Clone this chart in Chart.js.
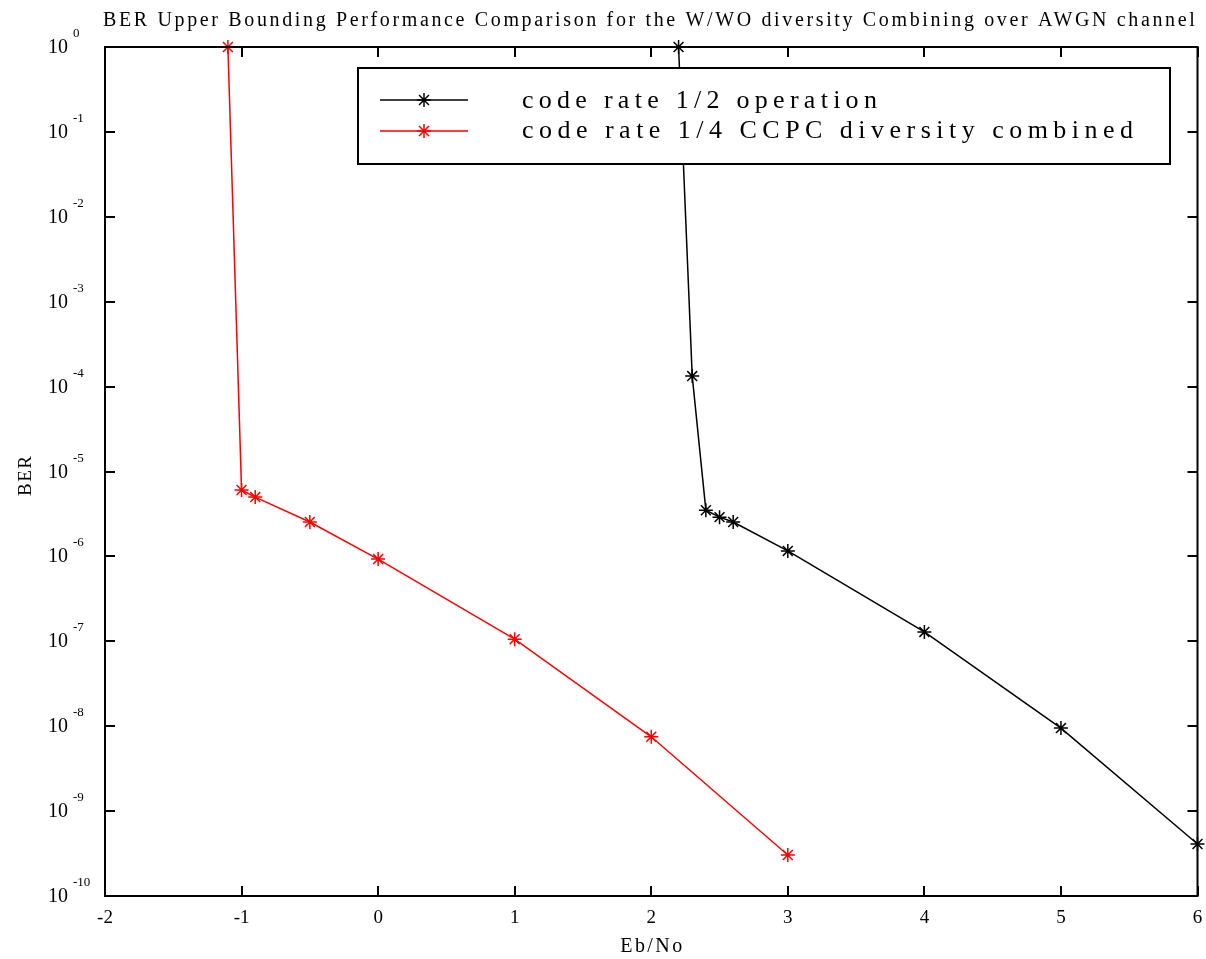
<!DOCTYPE html>
<html><head><meta charset="utf-8">
<script src="https://cdn.jsdelivr.net/npm/chart.js@4/dist/chart.umd.min.js"></script>
<style>html,body{margin:0;padding:0;background:#fff}</style>
</head><body>
<canvas id="c" width="1206" height="959"></canvas>
<script>
// ---- data ----
const titleText = 'BER Upper Bounding Performance Comparison for the W/WO diversity Combining over AWGN channel';
const xTitle = 'Eb/No';
const yTitle = 'BER';
const xTickValues = [-2, -1, 0, 1, 2, 3, 4, 5, 6];
const yTickExponents = [0, -1, -2, -3, -4, -5, -6, -7, -8, -9, -10];
const seriesLabels = ['code rate 1/2 operation', 'code rate 1/4 CCPC diversity combined'];
const ebnoRate12 = [2.2, 2.3, 2.4, 2.5, 2.6, 3, 4, 5, 6];
const berRate12 = [1, 1.33e-4, 3.5e-6, 2.9e-6, 2.54e-6, 1.16e-6, 1.29e-7, 9.5e-9, 4.1e-10];
const ebnoRate14 = [-1.1, -1, -0.9, -0.5, 0, 1, 2, 3];
const berRate14 = [1, 6.05e-6, 5.0e-6, 2.54e-6, 9.3e-7, 1.06e-7, 7.5e-9, 3.04e-10];

const SERIF = '"Liberation Serif", "Times New Roman", serif';

function pts(xs, ys) { return xs.map((x, i) => ({x: x, y: ys[i]})); }

function spacedText(ctx, text, x, y, fontPx, targetWidth, align) {
  ctx.font = fontPx + 'px ' + SERIF;
  ctx.letterSpacing = '0px';
  const w = ctx.measureText(text).width;
  const sp = targetWidth ? (targetWidth - w) / Math.max(1, text.length - 1) : 0;
  ctx.letterSpacing = sp.toFixed(2) + 'px';
  const tw = w + sp * (text.length - 1);
  let sx = x;
  if (align === 'center') sx = x - tw / 2;
  else if (align === 'right') sx = x - tw;
  ctx.textAlign = 'left';
  ctx.fillText(text, sx, y);
  ctx.letterSpacing = '0px';
  return sp;
}

const decor = {
  id: 'decor',
  afterDraw(chart) {
    const ctx = chart.ctx;
    const a = chart.chartArea;
    const xs = chart.scales.x, ys = chart.scales.y;
    ctx.save();
    ctx.fillStyle = '#000';
    ctx.strokeStyle = '#000';
    ctx.textBaseline = 'alphabetic';
    // box
    ctx.lineWidth = 2;
    ctx.strokeRect(a.left, a.top, a.right - a.left, a.bottom - a.top);
    // ticks inward
    const tl = 10;
    ctx.beginPath();
    xTickValues.forEach(v => {
      const px = Math.round(xs.getPixelForValue(v));
      ctx.moveTo(px, a.bottom); ctx.lineTo(px, a.bottom - tl);
      ctx.moveTo(px, a.top); ctx.lineTo(px, a.top + tl);
    });
    yTickExponents.forEach(e => {
      const py = Math.round(ys.getPixelForValue(Math.pow(10, e)));
      ctx.moveTo(a.left, py); ctx.lineTo(a.left + tl, py);
      ctx.moveTo(a.right, py); ctx.lineTo(a.right - tl, py);
    });
    ctx.stroke();
    // x tick labels
    ctx.font = '19px ' + SERIF;
    ctx.textAlign = 'center';
    xTickValues.forEach(v => {
      ctx.fillText(String(v), xs.getPixelForValue(v), a.bottom + 27);
    });
    // y tick labels with superscript exponent
    yTickExponents.forEach(e => {
      const py = ys.getPixelForValue(Math.pow(10, e));
      ctx.textAlign = 'left';
      ctx.font = '20px ' + SERIF;
      ctx.fillText('10', 48, py + 6);
      ctx.font = '13px ' + SERIF;
      ctx.fillText(String(e), 73, py - 10);
    });
    // title
    spacedText(ctx, titleText, 103, 26, 20, 1092, 'left');
    // x title
    spacedText(ctx, xTitle, (a.left + a.right) / 2, 952, 20, 62, 'center');
    // y title
    ctx.save();
    ctx.translate(31, 476);
    ctx.rotate(-Math.PI / 2);
    spacedText(ctx, yTitle, 0, 0, 19, 40, 'center');
    ctx.restore();
    // legend
    ctx.fillStyle = '#fff';
    ctx.fillRect(358, 68, 812, 96);
    ctx.lineWidth = 2;
    ctx.strokeStyle = '#000';
    ctx.strokeRect(358, 68, 812, 96);
    const ds = chart.data.datasets;
    const rowY = [100, 131];
    const baseY = [108, 138];
    const textW = [355, 611];
    ds.forEach((d, i) => {
      ctx.strokeStyle = d.borderColor;
      ctx.lineWidth = 1.5;
      ctx.beginPath();
      ctx.moveTo(380, rowY[i]); ctx.lineTo(468, rowY[i]);
      ctx.stroke();
      Chart.helpers.drawPoint(ctx, {pointStyle: 'star', radius: 7, rotation: 0, borderWidth: 1.5}, 424, rowY[i]);
    });
    ctx.fillStyle = '#000';
    ds.forEach((d, i) => {
      spacedText(ctx, d.label, 522, baseY[i], 26, textW[i], 'left');
    });
    ctx.restore();
  }
};

new Chart(document.getElementById('c'), {
  type: 'line',
  data: {
    datasets: [
      {label: seriesLabels[0], data: pts(ebnoRate12, berRate12), borderColor: '#000000', backgroundColor: '#000000',
       borderWidth: 1.5, pointStyle: 'star', pointRadius: 7, pointBorderWidth: 1.5, pointBorderColor: '#000000', tension: 0, clip: false},
      {label: seriesLabels[1], data: pts(ebnoRate14, berRate14), borderColor: '#ff0000', backgroundColor: '#ff0000',
       borderWidth: 1.5, pointStyle: 'star', pointRadius: 7, pointBorderWidth: 1.5, pointBorderColor: '#ff0000', tension: 0, clip: false}
    ]
  },
  options: {
    responsive: false,
    animation: false,
    devicePixelRatio: 1,
    layout: {padding: {left: 105, top: 47, right: 7, bottom: 63}},
    plugins: {legend: {display: false}, title: {display: false}, tooltip: {enabled: false}},
    scales: {
      x: {type: 'linear', min: -2, max: 6, display: false},
      y: {type: 'logarithmic', min: 1e-10, max: 1, display: false}
    }
  },
  plugins: [decor]
});
</script>
</body></html>
